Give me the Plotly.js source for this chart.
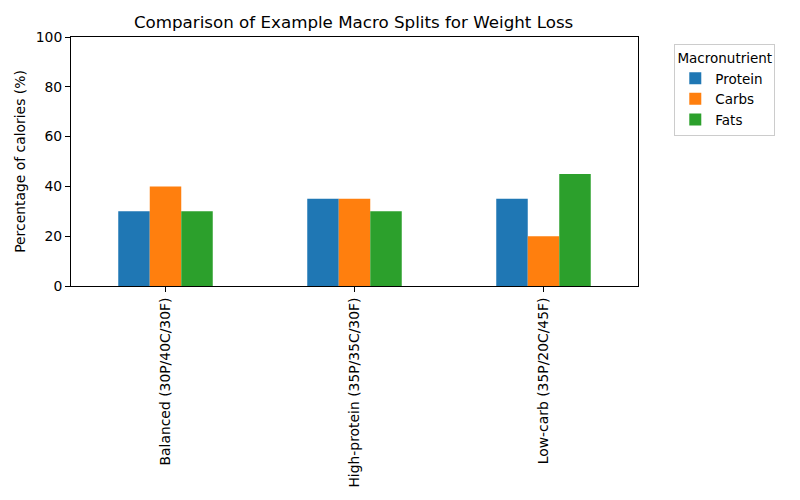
<!DOCTYPE html>
<html>
<head>
<meta charset="utf-8">
<script src="https://cdn.plot.ly/plotly-3.0.1.min.js"></script>
<style>
  body { margin: 0; }
  #chart { width: 800px; height: 500px; }
</style>
</head>
<body>
<div id="chart"></div>
<script>
const plans = ["Balanced (30P/40C/30F)", "High-protein (35P/35C/30F)", "Low-carb (35P/20C/45F)"];
const protein = [30, 35, 35];
const carbs = [40, 35, 20];
const fats = [30, 30, 45];
const yTicks = [0, 20, 40, 60, 80, 100];

const font = {family: "DejaVu Sans, sans-serif", size: 13.9, color: "#000"};
const legendFont = {family: font.family, size: 13.5, color: "#000"};

function series(name, values, color){
    return {
        type: "bar",
        name: name,
        x: plans,
        y: values,
        marker: {color: color, line: {width: 0}},
        hoverinfo: "skip"
    };
}

const traces = [
    series("Protein", protein, "#1f77b4"),
    series("Carbs", carbs, "#ff7f0e"),
    series("Fats", fats, "#2ca02c")
];

const layout = {
    width: 800,
    height: 500,
    margin: {l: 71, r: 162, t: 37, b: 214},
    paper_bgcolor: "#fff",
    plot_bgcolor: "#fff",
    font: font,
    barmode: "group",
    bargap: 0.5,
    bargroupgap: 0,
    title: {text: "Comparison of Example Macro Splits for Weight Loss", font: {family: font.family, size: 16.7, color: "#000"}, x: 0.442, xanchor: "center", y: 0.955, yanchor: "middle"},
    xaxis: {
        type: "category",
        range: [-0.5, 2.5],
        tickangle: -90,
        ticks: "outside",
        ticklen: 5,
        tickcolor: "#000",
        showline: true,
        linecolor: "#000",
        linewidth: 1,
        mirror: true,
        showgrid: false,
        tickfont: font
    },
    yaxis: {
        range: [0, 100],
        tickvals: yTicks,
        ticktext: yTicks.map(String),
        ticks: "outside",
        ticklen: 5,
        tickcolor: "#000",
        showline: true,
        linecolor: "#000",
        linewidth: 1,
        mirror: true,
        showgrid: false,
        zeroline: false,
        tickfont: font,
        title: {text: "Percentage of calories (%)", font: font, standoff: 6}
    },
    showlegend: true,
    legend: {
        x: 1.064, y: 0.97, xanchor: "left", yanchor: "top",
        bgcolor: "#fff",
        bordercolor: "#ccc",
        borderwidth: 1,
        font: legendFont,
        title: {text: "Macronutrient", font: legendFont, side: "top center"},
        itemclick: false
    }
};

Plotly.newPlot("chart", traces, layout, {displayModeBar: false, staticPlot: true});
</script>
</body>
</html>
